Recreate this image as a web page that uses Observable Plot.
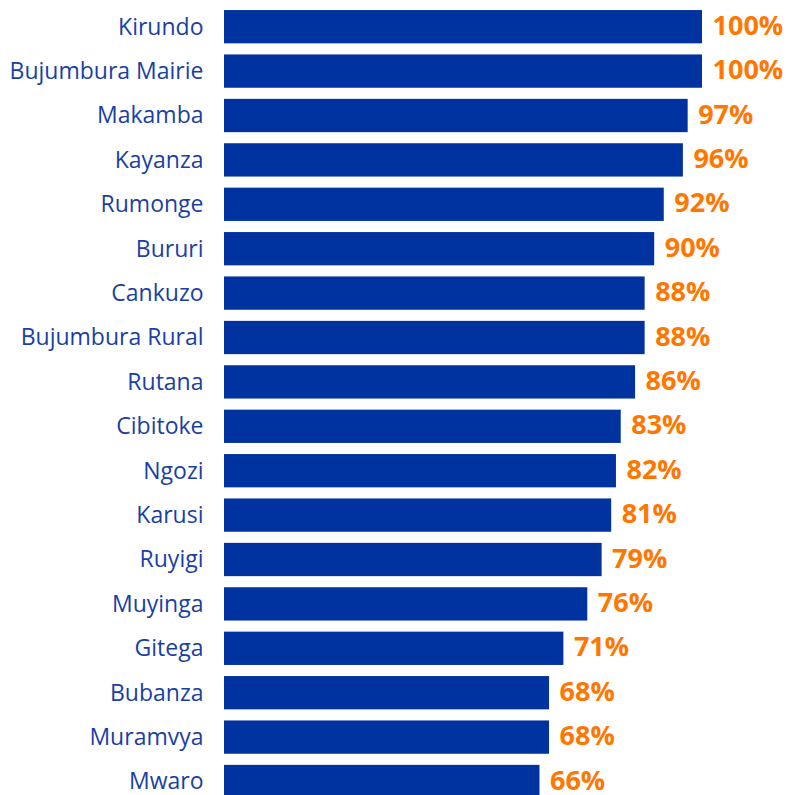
<!DOCTYPE html>
<html>
<head>
<meta charset="utf-8">
<script src="https://cdn.jsdelivr.net/npm/d3@7"></script>
<script src="https://cdn.jsdelivr.net/npm/@observablehq/plot@0.6"></script>
<style>
  html, body { margin: 0; padding: 0; background: #fff; }
</style>
</head>
<body>
<div id="chart"></div>
<script>
const provinces = ["Kirundo", "Bujumbura Mairie", "Makamba", "Kayanza", "Rumonge", "Bururi", "Cankuzo", "Bujumbura Rural", "Rutana", "Cibitoke", "Ngozi", "Karusi", "Ruyigi", "Muyinga", "Gitega", "Bubanza", "Muramvya", "Mwaro"];
const rates = [100, 100, 97, 96, 92, 90, 88, 88, 86, 83, 82, 81, 79, 76, 71, 68, 68, 66];

const data = provinces.map((p, i) => ({province: p, rate: rates[i]}));

const chart = Plot.plot({
  width: 787,
  height: 795,
  marginLeft: 224,
  marginRight: 0,
  marginTop: 0,
  marginBottom: 0,
  style: {fontFamily: "'Open Sans', sans-serif", background: "#fff"},
  x: {domain: [0, 100], range: [224, 702], axis: null},
  y: {domain: provinces, range: [4.5, 803.7], round: false, paddingInner: 0.25, paddingOuter: 0.125, label: null},
  marks: [
    Plot.barX(data, {x: "rate", y: "province", fill: "#0033a0"}),
    Plot.text(data, {x: "rate", y: "province", text: d => d.rate + "%", textAnchor: "start", dx: 10, dy: -1, fill: "#ff7700", fontSize: 27, fontWeight: "bold"}),
    Plot.axisY({tickSize: 0, tickPadding: 21, fontSize: 23, color: "#1a3fa3", label: null})
  ]
});
document.getElementById("chart").appendChild(chart);
</script>
</body>
</html>
